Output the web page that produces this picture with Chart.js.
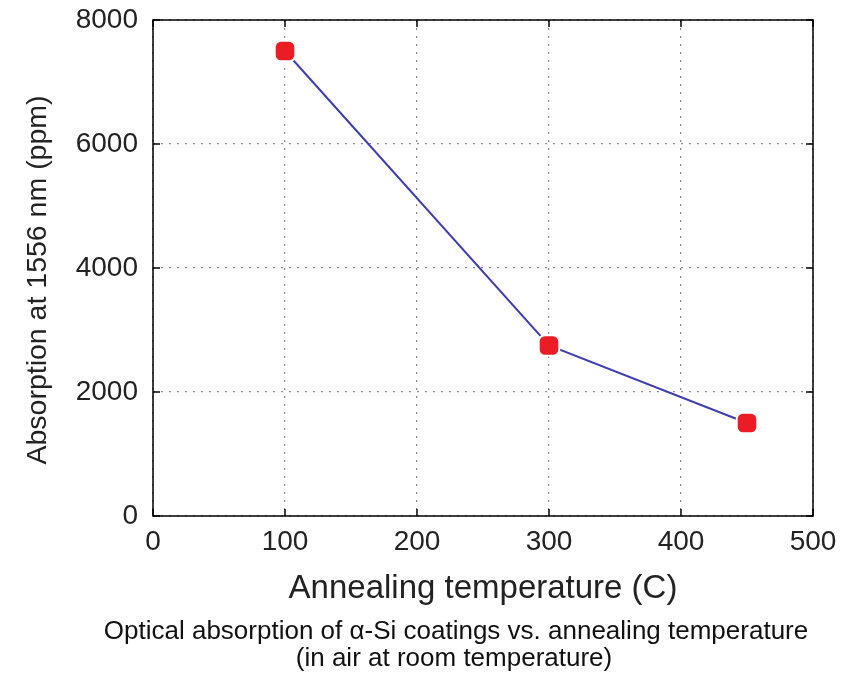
<!DOCTYPE html>
<html>
<head>
<meta charset="utf-8">
<script src="https://cdn.jsdelivr.net/npm/chart.js@4"></script>
<style>
  html, body { margin: 0; padding: 0; background: #fff; }
  canvas { display: block; }
</style>
</head>
<body>
<canvas id="chart" width="855" height="674"></canvas>
<script>
'use strict';

const temps = [100, 300, 450];
const absorption = [7500, 2750, 1500];
const xTicks = [0, 100, 200, 300, 400, 500];
const yTicks = [0, 2000, 4000, 6000, 8000];
const yTitle = 'Absorption at 1556 nm (ppm)';
const caption = [
  'Optical absorption of α-Si coatings vs. annealing temperature',
  '(in air at room temperature)'
];

const FONT = '"Liberation Sans", Arial, Helvetica, sans-serif';

// frame with inward ticks on all four sides, y title and the caption
const framePlugin = {
  id: 'frame',
  afterDraw(chart) {
    const { ctx, chartArea: a, scales: { x, y } } = chart;
    const tl = 7;
    ctx.save();
    ctx.strokeStyle = '#000';
    ctx.lineWidth = 1.5;
    ctx.strokeRect(a.left, a.top, a.right - a.left, a.bottom - a.top);
    ctx.beginPath();
    xTicks.forEach(v => {
      const px = x.getPixelForValue(v);
      ctx.moveTo(px, a.bottom); ctx.lineTo(px, a.bottom - tl);
      ctx.moveTo(px, a.top); ctx.lineTo(px, a.top + tl);
    });
    yTicks.forEach(v => {
      const py = y.getPixelForValue(v);
      ctx.moveTo(a.left, py); ctx.lineTo(a.left + tl, py);
      ctx.moveTo(a.right, py); ctx.lineTo(a.right - tl, py);
    });
    ctx.stroke();

    ctx.fillStyle = '#222';
    ctx.textAlign = 'center';
    ctx.textBaseline = 'middle';
    ctx.save();
    ctx.translate(38, 280);
    ctx.rotate(-Math.PI / 2);
    ctx.font = '28.5px ' + FONT;
    ctx.fillText(yTitle, 0, 0);
    ctx.restore();

    ctx.fillStyle = '#111';
    ctx.font = '26px ' + FONT;
    ctx.fillText(caption[0], 456, 632);
    ctx.fillText(caption[1], 454, 659);
    ctx.restore();
  }
};

new Chart(document.getElementById('chart').getContext('2d'), {
  type: 'line',
  data: {
    datasets: [{
      data: temps.map((t, i) => ({ x: t, y: absorption[i] })),
      borderColor: '#3d3db4',
      borderWidth: 2,
      pointStyle: 'rectRounded',
      pointRadius: 12,
      pointBackgroundColor: '#ec1c24',
      pointBorderColor: '#fff',
      pointBorderWidth: 2,
      tension: 0,
      fill: false
    }]
  },
  options: {
    responsive: false,
    animation: false,
    layout: { autoPadding: false, padding: { left: 0, right: 42, top: 20, bottom: 63 } },
    plugins: { legend: { display: false }, tooltip: { enabled: false } },
    scales: {
      x: {
        type: 'linear',
        min: 0, max: 500,
        afterBuildTicks: s => { s.ticks = xTicks.map(v => ({ value: v })); },
        afterFit: s => { s.height = 95; s.paddingLeft = 0; s.paddingRight = 0; },
        ticks: { color: '#222', padding: 9, font: { family: FONT, size: 28 }, callback: v => String(v) },
        grid: { color: '#8a8a8a', lineWidth: 1.2, drawTicks: false },
        border: { display: false, dash: [2, 6] },
        title: {
          display: true, text: 'Annealing temperature (C)', color: '#222',
          font: { family: FONT, size: 33 }, padding: { bottom: 2 }
        }
      },
      y: {
        type: 'linear',
        min: 0, max: 8000,
        afterBuildTicks: s => { s.ticks = yTicks.map(v => ({ value: v })); },
        afterFit: s => { s.width = 153; s.paddingTop = 0; s.paddingBottom = 0; },
        ticks: { color: '#222', padding: 15, font: { family: FONT, size: 28 }, callback: v => String(v) },
        grid: { color: '#8a8a8a', lineWidth: 1.2, drawTicks: false },
        border: { display: false, dash: [2, 6] },
        title: { display: false }
      }
    }
  },
  plugins: [framePlugin]
});
</script>
</body>
</html>
